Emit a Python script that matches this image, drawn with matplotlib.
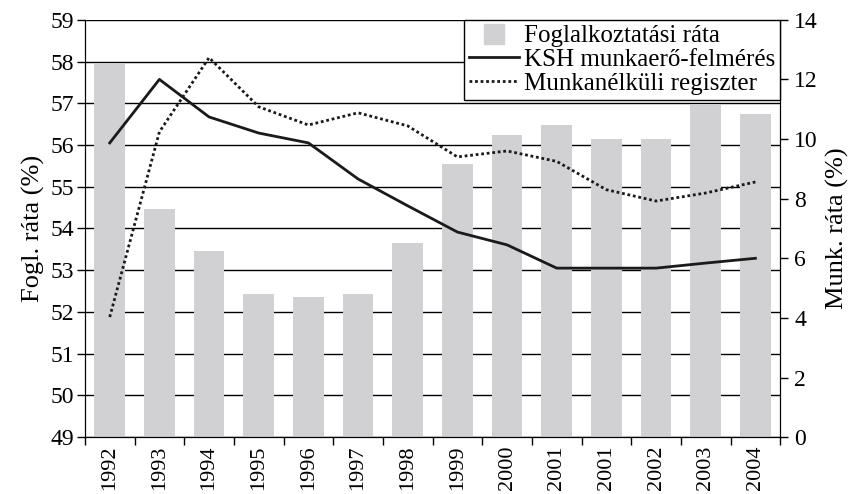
import matplotlib.pyplot as plt
from matplotlib.lines import Line2D
import numpy as np

years = ["1992", "1993", "1994", "1995", "1996", "1997", "1998",
         "1999", "2000", "2001", "2001", "2002", "2003", "2004"]
fogl = [57.93, 54.47, 53.47, 52.43, 52.36, 52.43, 53.65,
        55.55, 56.23, 56.47, 56.15, 56.15, 56.95, 56.75]
ksh = [9.87, 12.0, 10.74, 10.2, 9.87, 8.66, 7.76,
       6.88, 6.45, 5.67, 5.67, 5.67, 5.84, 6.0]
regiszter = [4.03, 10.24, 12.73, 11.08, 10.47, 10.88, 10.44,
             9.4, 9.6, 9.25, 8.3, 7.92, 8.19, 8.56]

plt.rcParams['font.family'] = ['Liberation Serif', 'DejaVu Serif']
plt.rcParams['font.size'] = 17

x = np.arange(len(years))
fig = plt.figure(figsize=(8.49, 4.94), dpi=100)
ax = fig.add_axes([0.1, 0.115, 0.819, 0.845])

ax.bar(x, fogl, width=0.62, color="#d1d1d3", zorder=2)
ax.set_ylim(49, 59)
ax.set_yticks(range(49, 60))
ax.set_xlim(-0.5, len(years) - 0.5)
ax.yaxis.grid(True, color="black", lw=1.0, zorder=0)
ax.set_axisbelow(True)
ax.set_xticks(x)
ax.set_xticklabels(years, rotation=90, fontsize=16)
ax.set_xticks(np.arange(-0.5, len(years)), minor=True)
ax.tick_params(axis="x", which="major", length=0, pad=6)
ax.tick_params(axis="x", which="minor", length=6, width=1)
ax.tick_params(axis="y", length=6, width=1, pad=2)
ax.set_ylabel("Fogl. ráta (%)", fontsize=19, labelpad=4)
ax.spines["top"].set_visible(False)

ax2 = ax.twinx()
ax2.plot(x, ksh, color="#1a1a1a", lw=2)
ax2.plot(x, regiszter, color="#1a1a1a", lw=2, linestyle=(0, (1, 1)))
ax2.set_ylim(0, 14)
ax2.set_yticks(range(0, 15, 2))
ax2.tick_params(axis="y", length=6, width=1, pad=4)
ax2.set_ylabel("Munk. ráta (%)", fontsize=19, labelpad=6)
ax2.spines["top"].set_visible(False)

handles = [Line2D([], [], color="#d1d1d3", marker="s", markersize=14, linestyle="none"),
           Line2D([], [], color="#1a1a1a", lw=2),
           Line2D([], [], color="#1a1a1a", lw=2, linestyle=(0, (1, 1)))]
labels = ["Foglalkoztatási ráta", "KSH munkaerő-felmérés", "Munkanélküli regiszter"]
leg = ax2.legend(handles, labels, loc="upper right", borderaxespad=0,
                 fancybox=False, framealpha=1, edgecolor="black",
                 fontsize=18, handlelength=2.0, handletextpad=0.2,
                 labelspacing=0.05, borderpad=0.2)
leg.get_frame().set_linewidth(1)

fig.savefig("out.png", dpi=100)
